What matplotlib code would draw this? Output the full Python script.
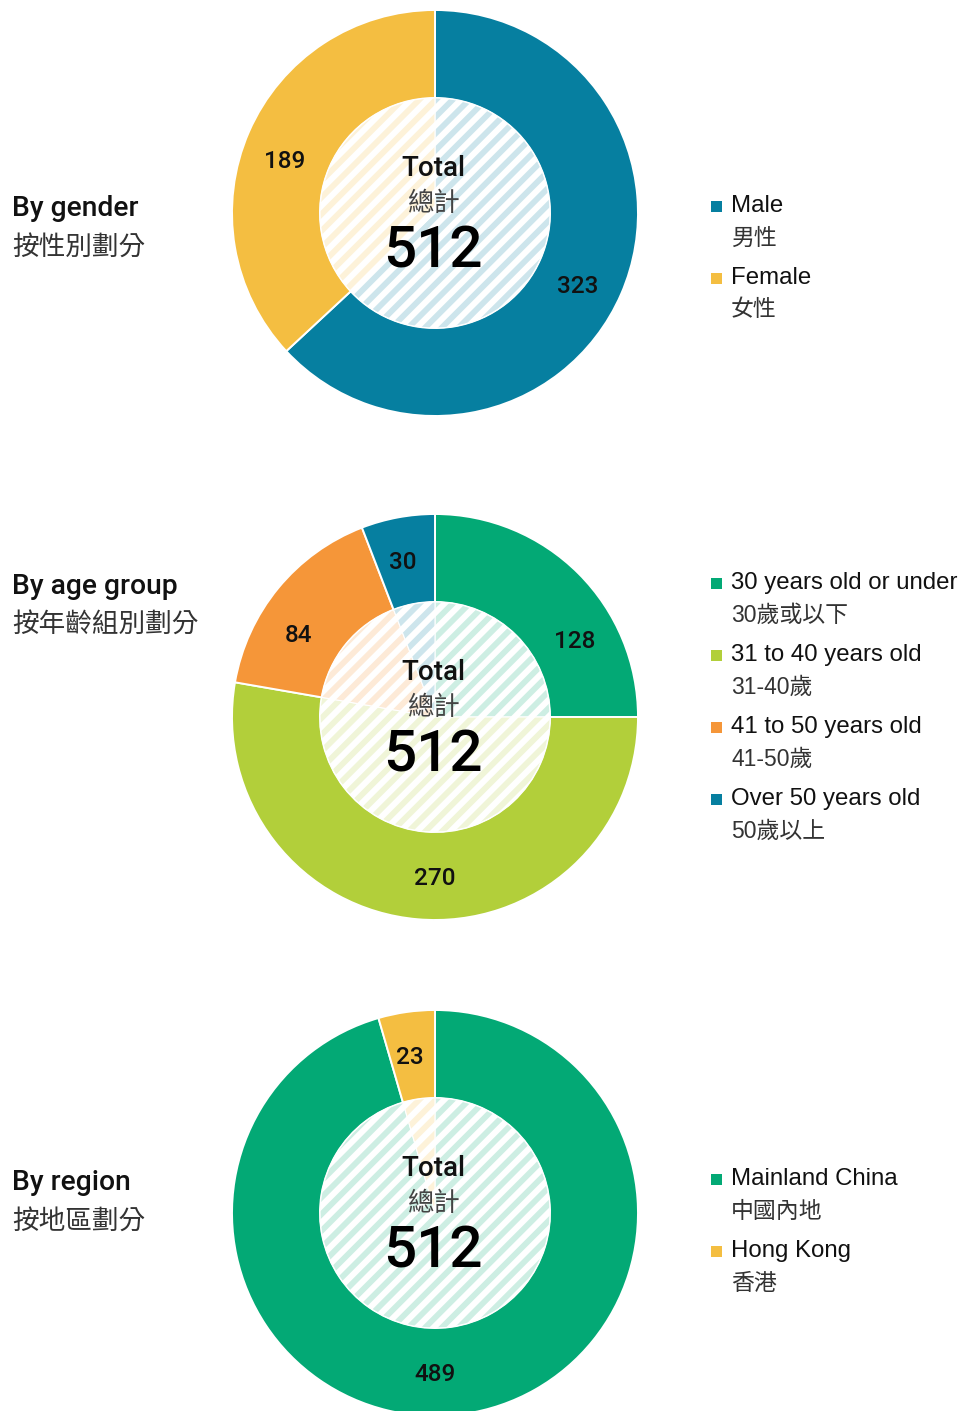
import matplotlib
matplotlib.use('Agg')
import matplotlib.pyplot as plt
from matplotlib.patches import Rectangle, Circle
from matplotlib.colors import to_rgb
import numpy as np

# ---------------- data ----------------
gender_en = ['Male', 'Female']
gender_zh = ['男性', '女性']
gender_values = [323, 189]

age_en = ['30 years old or under', '31 to 40 years old', '41 to 50 years old', 'Over 50 years old']
age_zh = ['30歲或以下', '31-40歲', '41-50歲', '50歲以上']
age_values = [128, 270, 84, 30]

region_en = ['Mainland China', 'Hong Kong']
region_zh = ['中國內地', '香港']
region_values = [489, 23]

total_en = 'Total'
total_zh = '總計'
total_value = 512

titles_en = ['By gender', 'By age group', 'By region']
titles_zh = ['按性別劃分', '按年齡組別劃分', '按地區劃分']

# ---------------- style ----------------
BLUE = '#067fa0'
YELLOW = '#f4be41'
GREEN = '#03a975'
LIME = '#b2cf3a'
ORANGE = '#f59639'

gender_colors = [BLUE, YELLOW]
age_colors = [GREEN, LIME, ORANGE, BLUE]
region_colors = [GREEN, YELLOW]

W, H = 961, 1411
DPI = 100
EN = ['Liberation Sans', 'Noto Sans CJK TC', 'DejaVu Sans']
ZH = ['Noto Sans CJK TC', 'Liberation Sans', 'DejaVu Sans']
MED = ['Roboto', 'Noto Sans CJK TC', 'DejaVu Sans']


def light(c, a=0.2):
    r, g, b = to_rgb(c)
    return (1 - a + a * r, 1 - a + a * g, 1 - a + a * b)


def Y(y):
    return H - y


fig = plt.figure(figsize=(W / DPI, H / DPI), dpi=DPI)
ax = fig.add_axes([0, 0, 1, 1])

CX = 435
TX = 433
R_OUT = 203
R_IN = 115
R_LAB = 160
STRIPE_P = 16.7

charts = [
    dict(values=gender_values, colors=gender_colors, en=gender_en, zh=gender_zh,
         cy=213, title_y=208, legend_y=206, nudge=[-3, 4]),
    dict(values=age_values, colors=age_colors, en=age_en, zh=age_zh,
         cy=717, title_y=585, legend_y=583, nudge=[-16, 5, 8, 1]),
    dict(values=region_values, colors=region_colors, en=region_en, zh=region_zh,
         cy=1213, title_y=1182, legend_y=1179, nudge=[-8, 1]),
]

for i, ch in enumerate(charts):
    cy = ch['cy']
    center = (CX, Y(cy))
    wedges, _ = ax.pie(ch['values'], colors=ch['colors'], radius=R_OUT, center=center,
                       startangle=90, counterclock=False,
                       wedgeprops=dict(width=R_OUT - R_IN, edgecolor='white', linewidth=1.4))
    ax.pie(ch['values'], colors=[light(c) for c in ch['colors']], radius=R_IN, center=center,
           startangle=90, counterclock=False,
           wedgeprops=dict(edgecolor='white', linewidth=0.8))
    # diagonal white stripes in the inner disc
    circ = Circle(center, R_IN, transform=ax.transData)
    xs = np.array([CX - R_IN - 10, CX + R_IN + 10])
    for k in np.arange(-2 * R_IN, 2 * R_IN + STRIPE_P, STRIPE_P):
        ln, = ax.plot(xs, Y(cy) + (xs - CX) + k, color='white', lw=4.3,
                      solid_capstyle='butt', zorder=3)
        ln.set_clip_path(circ)
    # value labels
    for w, v, nd in zip(wedges, ch['values'], ch['nudge']):
        ang = np.deg2rad((w.theta1 + w.theta2) / 2 + nd)
        ax.text(CX + R_LAB * np.cos(ang), Y(cy) + R_LAB * np.sin(ang) - 2, str(v),
                ha='center', va='center', fontsize=17.5, family=MED, weight='medium',
                color='#111111', zorder=5)
    # center text
    ax.text(TX, Y(cy - 37), total_en, ha='center', va='baseline', fontsize=20,
            family=MED, weight='medium', color='#111111', zorder=5)
    ax.text(TX, Y(cy - 9.5), total_zh, ha='center', va='center', fontsize=19,
            family=ZH, color='#444444', zorder=5)
    ax.text(TX, Y(cy + 54), str(total_value), ha='center', va='baseline', fontsize=42,
            family=MED, weight='medium', color='#000000', zorder=5)
    # titles
    ax.text(12, Y(ch['title_y'] + 1), titles_en[i], ha='left', va='center', fontsize=20.3,
            family=MED, weight='medium', color='#111111')
    ax.text(12, Y(ch['title_y'] + 39), titles_zh[i], ha='left', va='center', fontsize=19.2,
            family=ZH, color='#333333')
    # legend
    for j, (e, z, c) in enumerate(zip(ch['en'], ch['zh'], ch['colors'])):
        ly = ch['legend_y'] + j * 72
        ax.add_patch(Rectangle((711, Y(ly) - 5.5), 11, 11, facecolor=c, edgecolor='none'))
        ax.text(731, Y(ly), e, ha='left', va='center', fontsize=17.3, family=EN, color='#111111')
        ax.text(731, Y(ly + 32), z, ha='left', va='center', fontsize=16.5, family=EN,
                color='#333333')

ax.set_xlim(0, W)
ax.set_ylim(0, H)
ax.set_aspect('equal')
ax.axis('off')

fig.savefig('out.png', dpi=DPI, facecolor='white')
